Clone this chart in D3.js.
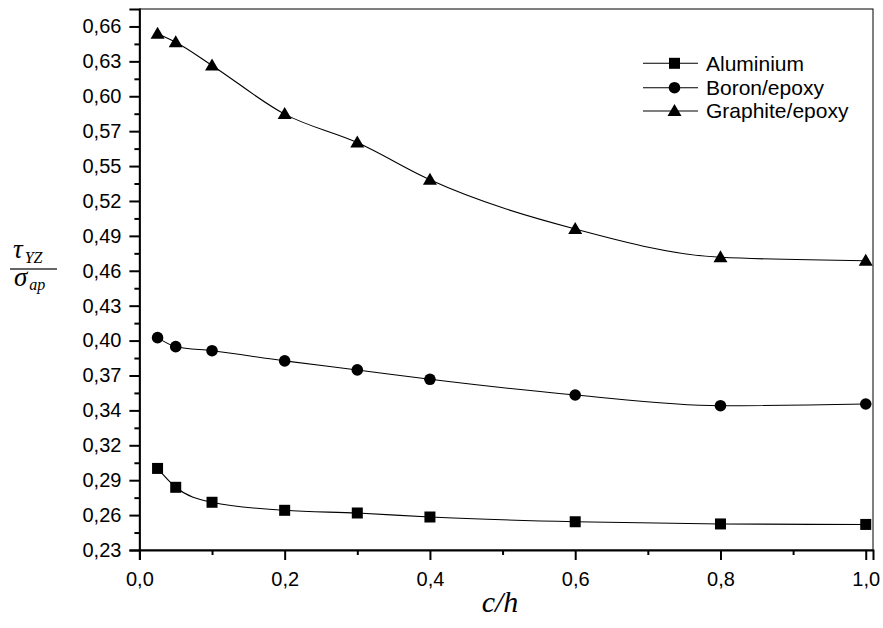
<!DOCTYPE html>
<html><head><meta charset="utf-8">
<script src="https://cdn.jsdelivr.net/npm/d3@7"></script>
<style>body{margin:0;background:#fff}svg{display:block}</style>
</head><body>
<script>
const xValues = [0.025, 0.05, 0.1, 0.2, 0.3, 0.4, 0.6, 0.8, 1.0];
const aluminium = [0.297, 0.2815, 0.2692, 0.2626, 0.2604, 0.2571, 0.2532, 0.2514, 0.2510];
const boronEpoxy = [0.4044, 0.397, 0.3937, 0.3853, 0.3779, 0.3702, 0.3573, 0.3485, 0.3499];
const graphiteEpoxy = [0.654, 0.647, 0.628, 0.588, 0.5646, 0.534, 0.4937, 0.4704, 0.4676];
const seriesNames = ["Aluminium", "Boron/epoxy", "Graphite/epoxy"];
const seriesMarkers = ["square", "circle", "triangle"];
const yTickValues = [0.23, 0.25867, 0.28733, 0.316, 0.34467, 0.37333, 0.402, 0.43067, 0.45933, 0.488, 0.51667, 0.54533, 0.574, 0.60267, 0.63133, 0.66];
const yTickLabels = ["0,23","0,26","0,29","0,32","0,34","0,37","0,40","0,43","0,46","0,49","0,52","0,55","0,57","0,60","0,63","0,66"];
const xTickValues = [0, 0.2, 0.4, 0.6, 0.8, 1.0];
const xTickLabels = ["0,0","0,2","0,4","0,6","0,8","1,0"];
const xMinorTicks = [0.1, 0.3, 0.5, 0.7, 0.9];

const W = 883, H = 628;
const L = 139.4, R = 873, T = 9, B = 550;
const svg = d3.select("body").append("svg").attr("width", W).attr("height", H);

const x = d3.scaleLinear().domain([0, 1.01]).range([L, R]);
const yStep = yTickValues[1] - yTickValues[0];
const y = d3.scaleLinear().domain([0.23, 0.66 + yStep / 2]).range([B, T]);
const yMinor = yTickValues.map(v => v + yStep / 2).filter(v => v < 0.66 + yStep / 2 - 1e-6);

// frame
svg.append("rect").attr("x", L).attr("y", T).attr("width", R - L).attr("height", B - T)
  .attr("fill", "none").attr("stroke", "#000").attr("stroke-width", 1);

// x axis
const xAxis = d3.axisBottom(x).tickValues(xTickValues).tickSize(10)
  .tickFormat((d, i) => xTickLabels[i]);
const gx = svg.append("g").attr("transform", `translate(0,${B})`).call(xAxis);
gx.select(".domain").attr("stroke-width", 2);
gx.selectAll(".tick line").attr("stroke-width", 2);
gx.selectAll("text").attr("font-family", "Liberation Sans, Arial, sans-serif").attr("font-size", 20)
  .attr("fill", "#000").attr("dy", "1.15em");
const gxm = svg.append("g").attr("transform", `translate(0,${B})`)
  .call(d3.axisBottom(x).tickValues(xMinorTicks).tickSize(5).tickFormat(""));
gxm.select(".domain").remove();
gxm.selectAll(".tick line").attr("stroke-width", 2);

// y axis
const yAxis = d3.axisLeft(y).tickValues(yTickValues).tickSize(10)
  .tickFormat((d, i) => yTickLabels[i]);
const gy = svg.append("g").attr("transform", `translate(${L},0)`).call(yAxis);
gy.select(".domain").attr("stroke-width", 2);
gy.selectAll(".tick line").attr("stroke-width", 2);
gy.selectAll("text").attr("font-family", "Liberation Sans, Arial, sans-serif").attr("font-size", 20)
  .attr("fill", "#000").attr("x", -18);
const gym = svg.append("g").attr("transform", `translate(${L},0)`)
  .call(d3.axisLeft(y).tickValues(yMinor).tickSize(5).tickFormat(""));
gym.select(".domain").remove();
gym.selectAll(".tick line").attr("stroke-width", 2);

// series
const allSeries = [aluminium, boronEpoxy, graphiteEpoxy];
const line = d3.line().x(d => x(d[0])).y(d => y(d[1])).curve(d3.curveMonotoneX);

function drawMarker(g, type, cx, cy) {
  if (type === "square") {
    g.append("rect").attr("x", cx - 5.5).attr("y", cy - 5.5).attr("width", 11).attr("height", 11).attr("fill", "#000");
  } else if (type === "circle") {
    g.append("circle").attr("cx", cx).attr("cy", cy).attr("r", 5.8).attr("fill", "#000");
  } else {
    g.append("path").attr("d", `M${cx},${cy - 7}L${cx + 7},${cy + 5}L${cx - 7},${cy + 5}Z`).attr("fill", "#000");
  }
}

allSeries.forEach((vals, si) => {
  const pts = xValues.map((xv, i) => [xv, vals[i]]);
  svg.append("path").datum(pts).attr("d", line).attr("fill", "none").attr("stroke", "#000").attr("stroke-width", 1.1);
  const g = svg.append("g");
  pts.forEach(p => drawMarker(g, seriesMarkers[si], x(p[0]), y(p[1])));
});

// legend
const legendY = [63.3, 87.7, 111];
seriesNames.forEach((name, i) => {
  const g = svg.append("g");
  g.append("line").attr("x1", 643).attr("x2", 698).attr("y1", legendY[i]).attr("y2", legendY[i])
    .attr("stroke", "#000").attr("stroke-width", 1.1);
  drawMarker(g, seriesMarkers[i], 674.5, legendY[i]);
  g.append("text").attr("x", 706).attr("y", legendY[i]).attr("dy", "0.35em")
    .attr("font-family", "Liberation Sans, Arial, sans-serif").attr("font-size", 21).text(name);
});

// axis titles
const serif = "Liberation Serif, Times New Roman, serif";
const yt = svg.append("g").attr("font-family", serif).attr("font-style", "italic");
const tau = yt.append("text").attr("x", 13).attr("y", 258).attr("font-size", 27).text("τ");
yt.append("text").attr("x", 13 + tau.node().getComputedTextLength() + 2).attr("y", 263).attr("font-size", 16).text("YZ");
yt.append("line").attr("x1", 10).attr("x2", 57).attr("y1", 269).attr("y2", 269)
  .attr("stroke", "#333").attr("stroke-width", 1.5);
const sig = yt.append("text").attr("x", 14).attr("y", 286).attr("font-size", 27).text("σ");
yt.append("text").attr("x", 14 + sig.node().getComputedTextLength() + 2).attr("y", 290).attr("font-size", 16).text("ap");

svg.append("text").attr("x", 500).attr("y", 612).attr("text-anchor", "middle")
  .attr("font-family", serif).attr("font-style", "italic").attr("font-size", 30).text("c/h");
</script>
</body></html>
